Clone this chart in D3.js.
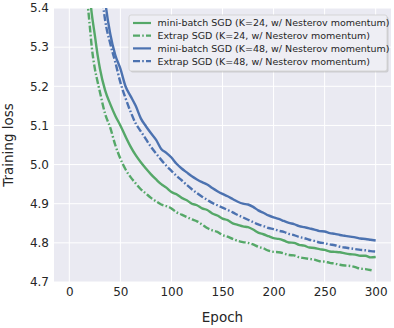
<!DOCTYPE html>
<html>
<head>
<meta charset="utf-8">
<script src="https://cdn.jsdelivr.net/npm/d3@7"></script>
<style>
  body { margin: 0; background: #fff; }
  text { font-family: "DejaVu Sans", sans-serif; fill: #262626; }
</style>
</head>
<body>
<div id="chart"></div>
<script>
// series names (legend order)
const names = [
  'mini-batch SGD (K=24, w/ Nesterov momentum)',
  'Extrap SGD (K=24, w/ Nesterov momentum)',
  'mini-batch SGD (K=48, w/ Nesterov momentum)',
  'Extrap SGD (K=48, w/ Nesterov momentum)'
];

// epochs and losses
const epochsMb24 = [14, 17, 20, 22, 25, 28, 30, 35, 40, 45, 50, 55, 60, 65, 70, 75, 80, 85, 90, 95, 100, 105, 110, 115, 120, 125, 130, 135, 140, 145, 150, 155, 160, 165, 170, 175, 180, 185, 190, 195, 200, 205, 210, 215, 220, 225, 230, 235, 240, 245, 250, 255, 260, 265, 270, 275, 280, 285, 290, 295, 300];
const lossMb24 = [5.62, 5.51, 5.43, 5.385, 5.33, 5.275, 5.245, 5.19, 5.155, 5.125, 5.1, 5.072, 5.046, 5.024, 5.006, 4.99, 4.975, 4.962, 4.95, 4.941, 4.93, 4.924, 4.915, 4.909, 4.9, 4.896, 4.888, 4.884, 4.875, 4.87, 4.862, 4.858, 4.85, 4.846, 4.842, 4.84, 4.834, 4.826, 4.822, 4.817, 4.812, 4.81, 4.806, 4.801, 4.8, 4.795, 4.793, 4.788, 4.787, 4.784, 4.782, 4.778, 4.777, 4.776, 4.773, 4.771, 4.77, 4.767, 4.767, 4.763, 4.764];

const epochsEx24 = [12, 15, 18, 20, 22, 25, 28, 30, 35, 40, 45, 50, 55, 60, 65, 70, 75, 80, 85, 90, 95, 100, 105, 110, 115, 120, 125, 130, 135, 140, 145, 150, 155, 160, 165, 170, 175, 180, 185, 190, 195, 200, 205, 210, 215, 220, 225, 230, 235, 240, 245, 250, 255, 260, 265, 270, 275, 280, 285, 290, 296];
const lossEx24 = [5.62, 5.5, 5.41, 5.355, 5.3, 5.245, 5.208, 5.185, 5.13, 5.095, 5.05, 5.015, 4.988, 4.968, 4.952, 4.937, 4.926, 4.915, 4.906, 4.898, 4.894, 4.888, 4.878, 4.872, 4.866, 4.86, 4.855, 4.847, 4.838, 4.832, 4.828, 4.82, 4.816, 4.81, 4.805, 4.802, 4.8, 4.796, 4.79, 4.786, 4.78, 4.777, 4.776, 4.773, 4.769, 4.768, 4.763, 4.761, 4.759, 4.757, 4.753, 4.752, 4.749, 4.747, 4.744, 4.742, 4.741, 4.738, 4.734, 4.733, 4.73];

const epochsMb48 = [30, 33, 36, 40, 45, 50, 55, 60, 65, 70, 75, 80, 85, 90, 95, 100, 105, 110, 115, 120, 125, 130, 135, 140, 145, 150, 155, 160, 165, 170, 175, 180, 185, 190, 195, 200, 205, 210, 215, 220, 225, 230, 235, 240, 245, 250, 255, 260, 265, 270, 275, 280, 285, 290, 295, 300];
const lossMb48 = [5.56, 5.47, 5.4, 5.335, 5.28, 5.245, 5.2, 5.175, 5.15, 5.118, 5.098, 5.08, 5.063, 5.04, 5.03, 5.018, 5.002, 4.99, 4.98, 4.97, 4.962, 4.955, 4.949, 4.94, 4.932, 4.925, 4.919, 4.912, 4.905, 4.9, 4.898, 4.892, 4.883, 4.877, 4.87, 4.865, 4.861, 4.856, 4.851, 4.848, 4.843, 4.84, 4.837, 4.834, 4.83, 4.829, 4.825, 4.823, 4.82, 4.818, 4.816, 4.814, 4.811, 4.81, 4.808, 4.806];

const epochsEx48 = [28, 30, 33, 35, 40, 45, 50, 55, 60, 65, 70, 75, 80, 85, 90, 95, 100, 105, 110, 115, 120, 125, 130, 135, 140, 145, 150, 155, 160, 165, 170, 175, 180, 185, 190, 195, 200, 205, 210, 215, 220, 225, 230, 235, 240, 245, 250, 255, 260, 265, 270, 275, 280, 285, 290, 295, 300];
const lossEx48 = [5.55, 5.49, 5.41, 5.37, 5.31, 5.262, 5.21, 5.17, 5.135, 5.105, 5.085, 5.065, 5.045, 5.028, 5.012, 4.997, 4.984, 4.971, 4.96, 4.948, 4.937, 4.927, 4.918, 4.91, 4.902, 4.896, 4.89, 4.884, 4.878, 4.871, 4.865, 4.859, 4.853, 4.847, 4.843, 4.838, 4.835, 4.831, 4.828, 4.823, 4.82, 4.815, 4.812, 4.808, 4.805, 4.801, 4.799, 4.796, 4.794, 4.79, 4.788, 4.786, 4.784, 4.782, 4.781, 4.779, 4.778];

const xTicks = [0, 50, 100, 150, 200, 250, 300];
const yTicks = [4.7, 4.8, 4.9, 5.0, 5.1, 5.2, 5.3, 5.4];

const green = '#55a868';
const blue = '#4c72b0';
const dashdot = '7,2.2,1.6,2.2';

const series = [
  { name: names[0], x: epochsMb24, y: lossMb24, color: green, dash: null },
  { name: names[1], x: epochsEx24, y: lossEx24, color: green, dash: dashdot },
  { name: names[2], x: epochsMb48, y: lossMb48, color: blue, dash: null },
  { name: names[3], x: epochsEx48, y: lossEx48, color: blue, dash: dashdot }
];

const W = 394, H = 328;
const margin = { top: 8, right: 3, bottom: 46, left: 54 };
const width = W - margin.left - margin.right;
const height = H - margin.top - margin.bottom;

const svg = d3.select('#chart').append('svg')
  .attr('width', W)
  .attr('height', H);

const g = svg.append('g')
  .attr('transform', 'translate(' + margin.left + ',' + margin.top + ')');

const x = d3.scaleLinear().domain([-15, 315]).range([0, width]);
const y = d3.scaleLinear().domain([4.7, 5.4]).range([height, 0]);

// background of the axes
g.append('rect')
  .attr('width', width)
  .attr('height', height)
  .attr('fill', '#eaeaf2');

// grid
g.append('g')
  .selectAll('line')
  .data(xTicks)
  .enter().append('line')
  .attr('x1', d => x(d)).attr('x2', d => x(d))
  .attr('y1', 0).attr('y2', height)
  .attr('stroke', '#fff').attr('stroke-width', 1);

g.append('g')
  .selectAll('line')
  .data(yTicks)
  .enter().append('line')
  .attr('x1', 0).attr('x2', width)
  .attr('y1', d => y(d)).attr('y2', d => y(d))
  .attr('stroke', '#fff').attr('stroke-width', 1);

// tick labels via axes without lines
const xAxis = g.append('g')
  .attr('transform', 'translate(0,' + height + ')')
  .call(d3.axisBottom(x).tickValues(xTicks).tickSize(0).tickPadding(5).tickFormat(d3.format('d')));
const yAxis = g.append('g')
  .call(d3.axisLeft(y).tickValues(yTicks).tickSize(0).tickPadding(5).tickFormat(d3.format('.1f')));
[xAxis, yAxis].forEach(a => {
  a.select('.domain').remove();
  a.selectAll('text').attr('font-size', 12).attr('fill', '#262626')
    .attr('font-family', '"DejaVu Sans", sans-serif');
});

// axis labels
g.append('text')
  .attr('x', width / 2)
  .attr('y', height + 40)
  .attr('text-anchor', 'middle')
  .attr('font-size', 13.5)
  .text('Epoch');

g.append('text')
  .attr('transform', 'translate(' + (13 - margin.left) + ',' + height / 2 + ') rotate(-90)')
  .attr('text-anchor', 'middle')
  .attr('font-size', 13.5)
  .text('Training loss');

// lines
g.append('clipPath').attr('id', 'clip')
  .append('rect').attr('width', width).attr('height', height);

const line = d3.line()
  .x(d => x(d[0]))
  .y(d => y(d[1]))
  .curve(d3.curveMonotoneX);

g.append('g')
  .attr('clip-path', 'url(#clip)')
  .selectAll('path')
  .data(series)
  .enter().append('path')
  .attr('d', s => line(s.x.map((e, i) => [e, s.y[i]])))
  .attr('fill', 'none')
  .attr('stroke', s => s.color)
  .attr('stroke-width', 2.4)
  .attr('stroke-dasharray', s => s.dash);

// legend
const legend = svg.append('g').attr('transform', 'translate(129,15)');
legend.append('rect')
  .attr('x', 1.5).attr('y', 1.5)
  .attr('width', 258).attr('height', 56)
  .attr('rx', 2)
  .attr('fill', '#b0b0b0').attr('opacity', 0.5);
legend.append('rect')
  .attr('width', 258).attr('height', 56)
  .attr('rx', 2)
  .attr('fill', '#eeeef4')
  .attr('stroke', '#cfcfcf').attr('stroke-width', 0.8);

const item = legend.selectAll('.item')
  .data(series)
  .enter().append('g')
  .attr('class', 'item')
  .attr('transform', (d, i) => 'translate(0,' + (8 + i * 12.7) + ')');

item.append('line')
  .attr('x1', 4).attr('x2', 22)
  .attr('stroke', d => d.color)
  .attr('stroke-width', 2.2)
  .attr('stroke-dasharray', d => d.dash);

item.append('text')
  .attr('x', 28.5)
  .attr('y', 3.4)
  .attr('font-size', 9.5)
  .text(d => d.name);
</script>
</body>
</html>
